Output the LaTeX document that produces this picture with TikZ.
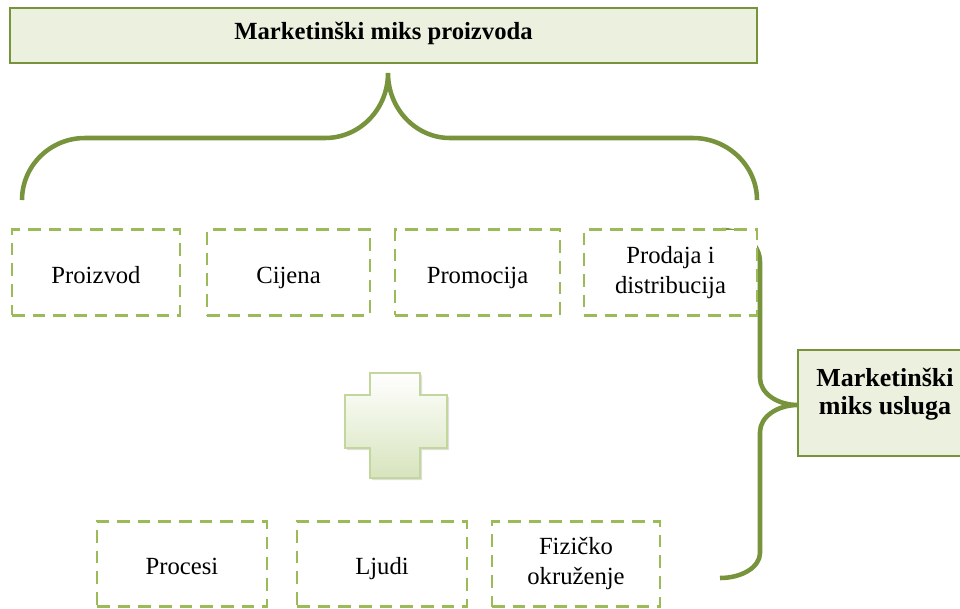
\documentclass[tikz,border=0pt]{standalone}
\usepackage{fontspec}
\setmainfont{Liberation Serif}
\usetikzlibrary{shadows}
\definecolor{olive}{HTML}{77933C}
\definecolor{lightfill}{HTML}{EBF1DE}
\definecolor{dashgreen}{HTML}{9BBB59}
\definecolor{plusedge}{HTML}{C3D69B}
\definecolor{plusbottom}{HTML}{D7E4BD}
\tikzset{
  headbox/.style={draw=olive, line width=1.6pt, fill=lightfill, inner sep=0pt},
  dashbox/.style={draw=dashgreen, line width=2.2pt, dash pattern=on 9.5pt off 6pt, fill=white, inner sep=0pt, minimum height=64pt, align=center, font=\fontsize{18.5}{22.5}\selectfont},
  oneline/.style={text height=18pt, text depth=2pt},
  bracestyle/.style={draw=olive, line width=3.4pt},
  headtext/.style={font=\bfseries\fontsize{18.5}{21}\selectfont, align=center, inner sep=0pt}
}
\begin{document}
\begin{tikzpicture}[x=0.75pt,y=-0.75pt]
\useasboundingbox (0,0) rectangle (960,608);
\clip (0,0) rectangle (960,608);
% top brace
\draw[bracestyle] (22,200) .. controls (22,166) and (50,138) .. (85,138) -- (325,138)
  .. controls (360,138) and (388,109) .. (388,73)
  .. controls (388,109) and (416,138) .. (450,138) -- (693,138)
  .. controls (728,138) and (757,166) .. (757,200);
% right brace
\draw[bracestyle] (722,230) .. controls (743,230) and (760,244) .. (760,262) -- (760,378)
  .. controls (760,393) and (777,405) .. (798,405)
  .. controls (777,405) and (760,417) .. (760,432) -- (760,553)
  .. controls (760,567) and (742,578) .. (720,578);
% top head box
\node[headbox, minimum width=560.25pt, minimum height=41.25pt] (mixp) at (383.5,35.5) {};
\node[headtext] (mixptext) at (383.5,33) {Marketinški miks proizvoda};
% right head box
\node[headbox, minimum width=132.75pt, minimum height=79.5pt] (mixu) at (886.5,403) {};
\node[headtext, font=\bfseries\fontsize{19.5}{21}\selectfont] (mixutext) at (885,394) {Marketinški\\miks usluga};
% row 1
\node[dashbox, oneline, minimum width=126pt] (proizvod) at (96,272.5) {Proizvod};
\node[dashbox, oneline, minimum width=122.25pt] (cijena) at (288.5,272.5) {Cijena};
\node[dashbox, oneline, minimum width=123.75pt] (promocija) at (477.5,272.5) {Promocija};
\node[dashbox, minimum width=129.75pt] (prodaja) at (670.5,272.5) {Prodaja i\\distribucija};
% row 2
\node[dashbox, oneline, minimum width=127.5pt] (procesi) at (182,564) {Procesi};
\node[dashbox, oneline, minimum width=127.5pt] (ljudi) at (382,564) {Ljudi};
\node[dashbox, minimum width=126pt] (fizicko) at (576,564) {Fizičko\\okruženje};
% plus sign
\fill[black!25, opacity=0.5] (372,375) -- (422,375) -- (422,397) -- (449,397) -- (449,450) -- (422,450) -- (422,480) -- (372,480) -- (372,450) -- (347,450) -- (347,397) -- (372,397) -- cycle;
\shade[top color=white, bottom color=plusbottom, draw=plusedge, line width=1pt]
  (370,373) -- (420,373) -- (420,395) -- (447,395) -- (447,448) -- (420,448) -- (420,478) -- (370,478) -- (370,448) -- (345,448) -- (345,395) -- (370,395) -- cycle;
\end{tikzpicture}
\end{document}
